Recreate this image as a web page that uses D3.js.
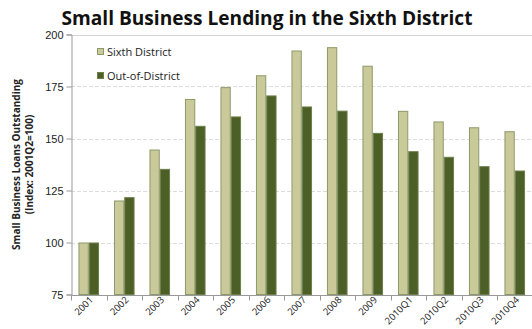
<!DOCTYPE html>
<html>
<head>
<meta charset="utf-8">
<script src="https://cdn.jsdelivr.net/npm/d3@7"></script>
<style>
  html, body { margin: 0; padding: 0; background: #fff; }
  svg { display: block; font-family: "Open Sans", "DejaVu Sans", sans-serif; }
</style>
</head>
<body>
<svg id="chart" width="532" height="329"></svg>
<script>
// Catégories (années puis trimestres 2010)
const periods = ["2001", "2002", "2003", "2004", "2005", "2006", "2007", "2008", "2009",
                 "2010Q1", "2010Q2", "2010Q3", "2010Q4"];
// Indice des encours (2001Q2 = 100)
const sixthDistrict = [100, 120.2, 144.7, 169, 174.7, 180.4, 192.3, 193.9, 185, 163.3, 158.2, 155.4, 153.5];
const outOfDistrict = [100, 121.8, 135.4, 156.1, 160.6, 170.7, 165.4, 163.4, 152.7, 143.9, 141.2, 136.7, 134.6];
const yTicks = [75, 100, 125, 150, 175, 200];

const seriesNames = ["Sixth District", "Out-of-District"];
const fills   = ["#cac99a", "#4b5f26"];
const strokes = ["#8c9a6a", "#6d7f48"];

const svg = d3.select("#chart");
const margin = { left: 71, right: 0, top: 34, bottom: 34 };
const W = 532, H = 329;

const x = d3.scaleBand()
    .domain(periods)
    .range([margin.left, 532.5])
    .paddingInner(0.42)
    .paddingOuter(0.21);

const band = d3.scaleBand()
    .domain(seriesNames)
    .range([0, x.bandwidth()]);

const y = d3.scaleLinear()
    .domain([75, 200])
    .range([H - margin.bottom - 0.5, margin.top + 0.5]);

// ── Grille ──
svg.append("g")
    .selectAll("line")
    .data(yTicks.filter(t => t > 75))
    .join("line")
    .attr("x1", margin.left)
    .attr("x2", W)
    .attr("y1", d => Math.round(y(d)) + 0.5)
    .attr("y2", d => Math.round(y(d)) + 0.5)
    .attr("stroke", d => d === 200 ? "#d4d4d4" : "#dcdcdc")
    .attr("stroke-width", 1)
    .attr("stroke-dasharray", d => d === 200 ? null : "4,2");

// ── Barres ──
const series = [sixthDistrict, outOfDistrict];
series.forEach((vals, si) => {
    svg.append("g")
        .selectAll("rect")
        .data(vals)
        .join("rect")
        .attr("x", (d, i) => x(periods[i]) + band(seriesNames[si]) + 0.5)
        .attr("y", d => y(d) + 0.5)
        .attr("width", band.bandwidth() - 1)
        .attr("height", d => y(75) - y(d) - 0.5)
        .attr("fill", fills[si])
        .attr("stroke", strokes[si])
        .attr("stroke-width", 1);
});

// ── Axe Y ──
const yAxis = d3.axisLeft(y).tickValues(yTicks).tickSize(5).tickPadding(3);
const gy = svg.append("g")
    .attr("transform", `translate(${margin.left + 0.5},0)`)
    .call(yAxis);
gy.select(".domain").attr("stroke", "#999");
gy.selectAll(".tick line").attr("stroke", "#999");
gy.selectAll(".tick text")
    .attr("font-size", "11px")
    .attr("fill", "#222");

// ── Axe X ──
const xBottom = Math.round(y(75)) + 0.5;
svg.append("line")
    .attr("x1", margin.left).attr("x2", W)
    .attr("y1", xBottom).attr("y2", xBottom)
    .attr("stroke", "#999");

const step = x.step();
svg.append("g")
    .selectAll("line")
    .data(d3.range(periods.length + 1))
    .join("line")
    .attr("x1", i => Math.round(margin.left + i * step) + 0.5)
    .attr("x2", i => Math.round(margin.left + i * step) + 0.5)
    .attr("y1", xBottom)
    .attr("y2", xBottom + 5)
    .attr("stroke", "#999");

// Étiquettes inclinées (légèrement remontées pour rester dans le cadre)
svg.append("g")
    .selectAll("text")
    .data(periods)
    .join("text")
    .attr("transform", d => `translate(${x(d) + x.bandwidth() / 2 + 5},${xBottom + 5}) rotate(-45)`)
    .attr("text-anchor", "end")
    .attr("font-size", "9.5px")
    .attr("fill", "#222")
    .text(d => d);

// ── Titre de l'axe Y ──
const yTitle = svg.append("g")
    .attr("transform", `translate(23,${(margin.top + H - margin.bottom) / 2}) rotate(-90)`)
    .attr("text-anchor", "middle")
    .attr("font-size", "10px")
    .attr("font-weight", "bold")
    .attr("fill", "#222");
yTitle.append("text").attr("y", -3).text("Small Business Loans Outstanding");
yTitle.append("text").attr("y", 10).text("(Index: 2001Q2=100)");

// ── Titre ──
const title = svg.append("text")
    .attr("x", 267)
    .attr("y", 25)
    .attr("text-anchor", "middle")
    .attr("font-size", "19px")
    .attr("font-weight", "bold")
    .attr("fill", "#111")
    .text("Small Business Lending in the Sixth District");
// Ajuster la taille pour occuper la même largeur que l'original (~411px)
const tw = title.node().getComputedTextLength();
title.attr("font-size", (19 * 411 / tw).toFixed(2) + "px");

// ── Légende ──
const legend = svg.append("g").attr("transform", "translate(97,45)");
seriesNames.forEach((name, i) => {
    const g = legend.append("g").attr("transform", `translate(0,${i * 24})`);
    g.append("rect")
        .attr("x", 0.5).attr("y", 3.5)
        .attr("width", 6).attr("height", 6)
        .attr("fill", fills[i])
        .attr("stroke", strokes[i]);
    g.append("text")
        .attr("x", 10)
        .attr("y", 11)
        .attr("font-size", "11px")
        .attr("fill", "#222")
        .text(name);
});
</script>
</body>
</html>
